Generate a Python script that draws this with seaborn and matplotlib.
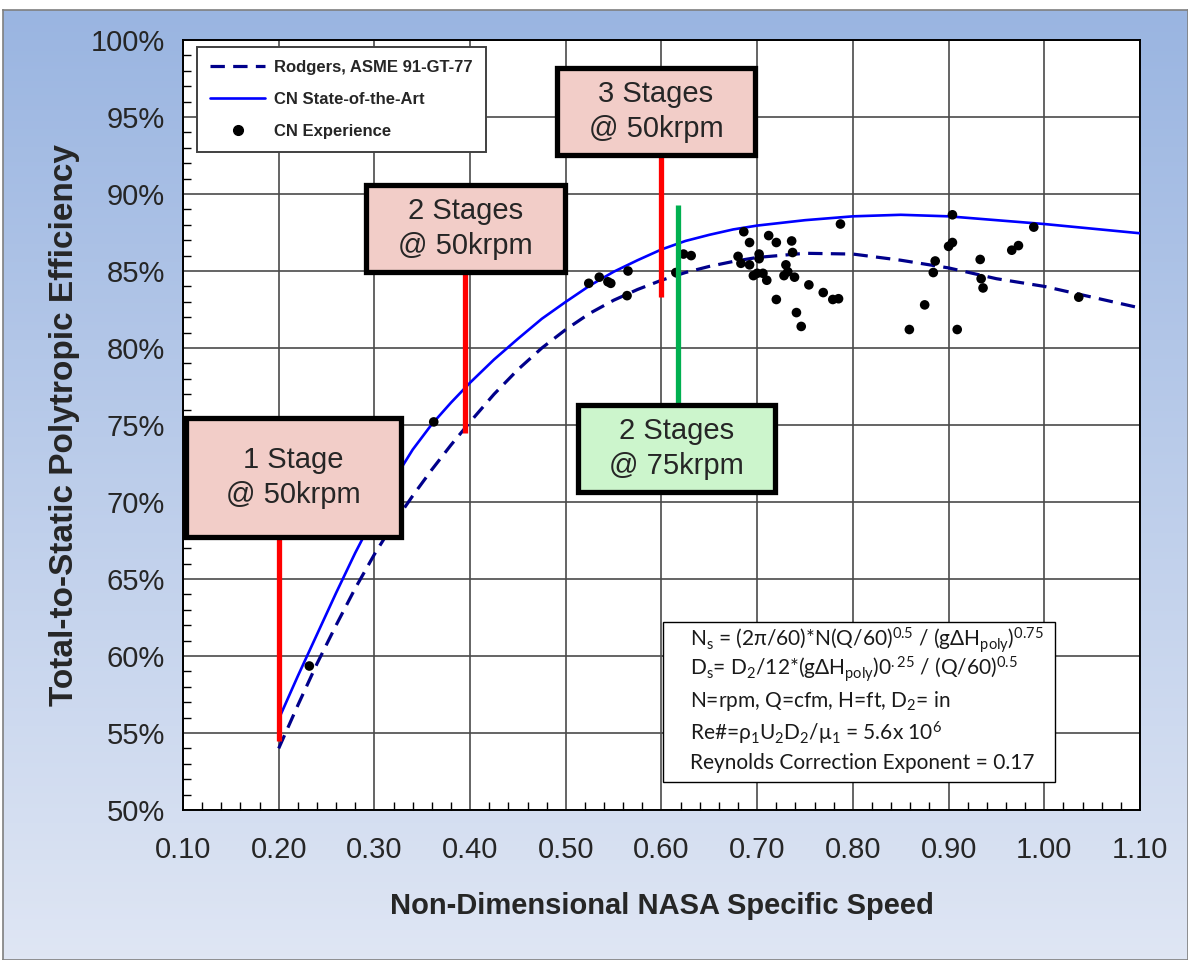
import numpy as np
import pandas as pd
import matplotlib
matplotlib.use('Agg')
import matplotlib.pyplot as plt
import matplotlib.ticker as mticker
from matplotlib.colors import LinearSegmentedColormap
from matplotlib.patches import Rectangle
from matplotlib.lines import Line2D
import seaborn as sns

# Rodgers, ASME 91-GT-77 curve
rodgers_x = [0.20, 0.22, 0.24, 0.26, 0.28, 0.30, 0.32, 0.34, 0.36, 0.38, 0.40,
             0.425, 0.45, 0.475, 0.50, 0.525, 0.55, 0.575, 0.60, 0.625, 0.65,
             0.675, 0.70, 0.75, 0.80, 0.85, 0.90, 0.95, 1.00, 1.05, 1.10]
rodgers_y = [54.0, 56.8, 59.5, 62.0, 64.4, 66.6, 68.6, 70.4, 72.1, 73.7, 75.2,
             77.0, 78.6, 80.0, 81.2, 82.25, 83.1, 83.8, 84.4, 84.9, 85.3,
             85.62, 85.88, 86.15, 86.1, 85.7, 85.2, 84.5, 84.0, 83.3, 82.6]

# CN State-of-the-Art curve
cn_x = [0.20, 0.22, 0.24, 0.26, 0.28, 0.30, 0.32, 0.34, 0.36, 0.38, 0.40,
        0.425, 0.45, 0.475, 0.50, 0.525, 0.55, 0.575, 0.60, 0.625, 0.65,
        0.675, 0.70, 0.75, 0.80, 0.85, 0.90, 0.95, 1.00, 1.05, 1.10]
cn_y = [55.9, 58.7, 61.4, 64.1, 66.7, 69.1, 71.4, 73.4, 75.05, 76.45, 77.75,
        79.25, 80.6, 81.9, 83.0, 84.05, 84.95, 85.7, 86.4, 86.95, 87.35,
        87.7, 87.95, 88.3, 88.55, 88.65, 88.55, 88.3, 88.05, 87.75, 87.45]

# CN Experience points
exp_x = [0.232, 0.362, 0.524, 0.535, 0.544, 0.547, 0.565, 0.564, 0.615, 0.623,
         0.631, 0.686, 0.692, 0.712, 0.720, 0.736, 0.737, 0.787, 0.680, 0.683,
         0.702, 0.702, 0.692, 0.696, 0.700, 0.706, 0.710, 0.730, 0.728, 0.732,
         0.739, 0.754, 0.769, 0.779, 0.785, 0.720, 0.741, 0.746, 0.904, 0.900,
         0.904, 0.886, 0.884, 0.875, 0.859, 0.909, 0.933, 0.934, 0.936, 0.966,
         0.973, 0.989, 1.036]
exp_y = [59.35, 75.2, 84.2, 84.6, 84.3, 84.2, 85.0, 83.4, 84.9, 86.1,
         86.0, 87.55, 86.85, 87.3, 86.85, 86.95, 86.2, 88.05, 85.95, 85.5,
         86.1, 85.8, 85.4, 84.7, 84.85, 84.85, 84.4, 85.4, 84.7, 84.95,
         84.6, 84.1, 83.6, 83.15, 83.2, 83.15, 82.3, 81.4, 88.65, 86.6,
         86.85, 85.65, 84.9, 82.8, 81.2, 81.2, 85.75, 84.5, 83.9, 86.35,
         86.65, 87.85, 83.3]

# stage markers (vertical bars)
red_x = [0.20, 0.395, 0.60]
red_lo = [54.5, 74.5, 83.3]
red_hi = [67.7, 84.9, 92.5]
green_x = [0.6175]
green_lo = [76.3]
green_hi = [89.3]

stage_labels = ['1 Stage\n@ 50krpm', '2 Stages\n@ 50krpm', '3 Stages\n@ 50krpm', '2 Stages\n@ 75krpm']

x_ticks = [0.10, 0.20, 0.30, 0.40, 0.50, 0.60, 0.70, 0.80, 0.90, 1.00, 1.10]
y_ticks = [50, 55, 60, 65, 70, 75, 80, 85, 90, 95, 100]

note_lines = [
    'N$_s$ = (2\u03c0/60)*N(Q/60)$^{0.5}$ / (g\u0394H$_{poly}$)$^{0.75}$',
    'D$_s$= D$_2$/12*(g\u0394H$_{poly}$)0$^{.25}$ / (Q/60)$^{0.5}$',
    'N=rpm, Q=cfm, H=ft, D$_2$= in',
    'Re#=\u03c1$_1$U$_2$D$_2$/\u03bc$_1$ = 5.6x 10$^6$',
    'Reynolds Correction Exponent = 0.17',
]

sns.set_style('white')
plt.rcParams['font.family'] = ['Liberation Sans', 'DejaVu Sans']
plt.rcParams['mathtext.default'] = 'regular'

fig = plt.figure(figsize=(11.88, 9.6), dpi=100)

# gradient chart-area background
bg = fig.add_axes([3 / 1188, 0, 1 - 3 / 1188, 950 / 960], zorder=0)
grad = np.linspace(0, 1, 256).reshape(-1, 1)
cmap = LinearSegmentedColormap.from_list('bg', ['#9ab5e1', '#dfe6f4'])
bg.imshow(grad, aspect='auto', cmap=cmap, extent=[0, 1, 0, 1], origin='upper')
bg.set_xticks([])
bg.set_yticks([])
for s in bg.spines.values():
    s.set_color('#7f7f7f')
    s.set_linewidth(1.2)

ax = fig.add_axes([183 / 1188, 150 / 960, 957 / 1188, 770 / 960], zorder=1)
ax.set_facecolor('white')

sns.lineplot(x=rodgers_x, y=rodgers_y, sort=False, ax=ax, color='#00008b',
             lw=2.3, linestyle=(0, (4.5, 2.6)), zorder=3)
sns.lineplot(x=cn_x, y=cn_y, sort=False, ax=ax, color='#0000ff', lw=1.9, zorder=3)
sns.scatterplot(x=exp_x, y=exp_y, ax=ax, color='black', s=48, edgecolor='none', zorder=4)

ax.vlines(red_x, red_lo, red_hi, colors='#ff0000', lw=3.8, zorder=4)
ax.vlines(green_x, green_lo, green_hi, colors='#00b050', lw=3.8, zorder=4)

# stage boxes: x0, x1, y0, y1
boxes = [(0.1031, 0.3278, 67.73, 75.45, '#f2cdc8'),
         (0.2912, 0.4992, 84.94, 90.58, '#f2cdc8'),
         (0.4908, 0.6977, 92.53, 98.18, '#f2cdc8'),
         (0.5128, 0.7186, 70.65, 76.30, '#ccf5cc')]
for (x0, x1, y0, y1, fc), lab in zip(boxes, stage_labels):
    ax.add_patch(Rectangle((x0, y0), x1 - x0, y1 - y0, facecolor=fc,
                           edgecolor='black', lw=3.8, zorder=6))
    ax.text((x0 + x1) / 2, (y0 + y1) / 2, lab, ha='center', va='center',
            fontsize=21, linespacing=1.35, zorder=7)

# note box
ax.add_patch(Rectangle((0.6016, 51.82), 1.0112 - 0.6016, 62.21 - 51.82,
                       facecolor='white', edgecolor='black', lw=1.0, zorder=6))
for i, line in enumerate(note_lines):
    ax.text(0.6298, [61.0, 59.15, 57.05, 55.0, 53.05][i], line, ha='left', va='center',
            fontsize=15, family=['Lato', 'DejaVu Sans'], color='#1a1a1a', zorder=7)

ax.set_xlim(0.1, 1.1)
ax.set_ylim(50, 100)
ax.set_xticks(x_ticks)
ax.set_yticks(y_ticks)
ax.xaxis.set_major_formatter(mticker.FuncFormatter(lambda v, p: f'{v:.2f}'))
ax.yaxis.set_major_formatter(mticker.FuncFormatter(lambda v, p: f'{v:.0f}%'))
ax.xaxis.set_minor_locator(mticker.MultipleLocator(0.02))
ax.yaxis.set_minor_locator(mticker.MultipleLocator(1))
ax.tick_params(which='major', direction='inout', length=14, width=1.2,
               labelsize=21, color='black', pad=4)
ax.tick_params(axis='x', which='major', pad=12)
ax.tick_params(axis='y', which='major', pad=6)
ax.tick_params(which='minor', direction='in', length=6, width=1.0, color='black',
               bottom=True, left=True)
ax.grid(True, which='major', color='#4a4a4a', lw=1.2)
ax.set_axisbelow(True)
for s in ax.spines.values():
    s.set_color('black')
    s.set_linewidth(1.4)

ax.set_xlabel('Non-Dimensional NASA Specific Speed', fontsize=21, fontweight='bold', labelpad=20)
ax.set_ylabel('Total-to-Static Polytropic Efficiency', fontsize=24, fontweight='bold', labelpad=8)

handles = [Line2D([], [], color='#00008b', lw=2.3, linestyle=(0, (4.5, 2.6))),
           Line2D([], [], color='#0000ff', lw=1.9),
           Line2D([], [], color='black', marker='o', ms=7, linestyle='none')]
leg = ax.legend(handles, ['Rodgers, ASME 91-GT-77', 'CN State-of-the-Art', 'CN Experience'],
                loc='upper left', bbox_to_anchor=(0.0146, 0.991), borderaxespad=0,
                prop={'weight': 'bold', 'size': 12}, fancybox=False, framealpha=1,
                edgecolor='#404040', handlelength=3.3, labelspacing=1.0,
                borderpad=0.8, handletextpad=0.5)
leg.get_frame().set_linewidth(1.4)
leg.set_zorder(8)

fig.savefig('out.png', dpi=100)
